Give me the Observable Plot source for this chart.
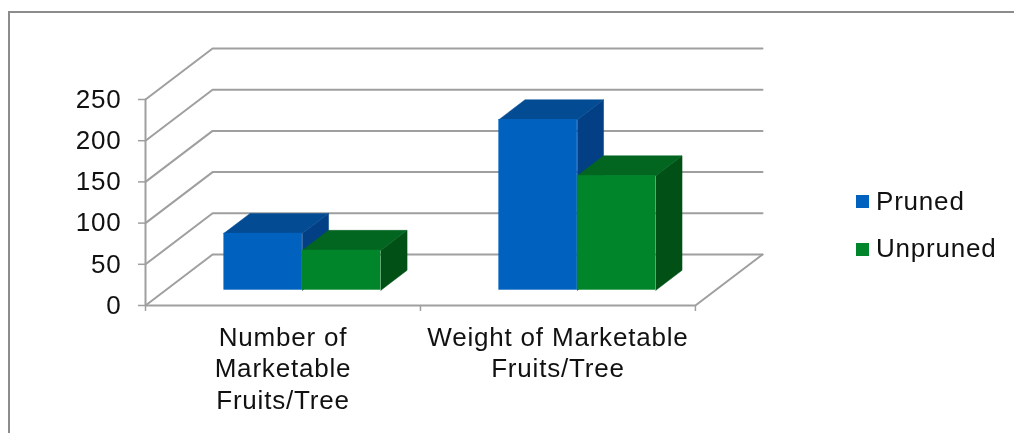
<!DOCTYPE html>
<html>
<head>
<meta charset="utf-8">
<script src="https://cdn.jsdelivr.net/npm/d3@7"></script>
<script src="https://cdn.jsdelivr.net/npm/@observablehq/plot@0.6"></script>
<style>
html,body{margin:0;padding:0;background:#fff;overflow:hidden}
#page{position:relative;width:1014px;height:433px;font-family:"Liberation Sans",Arial,sans-serif;filter:blur(0.35px)}
#frame{position:absolute;left:8px;top:11px;right:0;bottom:0;border-top:2px solid #8c8c8c;border-left:2px solid #8c8c8c}
#chart{position:absolute;left:0;top:0}
#chart svg{background:transparent!important}
.lg{position:absolute;left:856px;width:13px;height:13px}
.lt{position:absolute;left:876px;font-size:26px;letter-spacing:0.8px;line-height:30px;color:#111;white-space:nowrap}
</style>
</head>
<body>
<div id="page">
  <div id="frame"></div>
  <div id="chart"></div>
</div>
<script>
const categories = ["Number of\nMarketable\nFruits/Tree", "Weight of Marketable\nFruits/Tree"];
const seriesNames = ["Pruned", "Unpruned"];
const pruned = [69, 207];
const unpruned = [48.5, 139];
const valueTicks = [0, 50, 100, 150, 200, 250];

const frontColors = ["#0061BF", "#00852A"];
const topColors = ["#034C94", "#026520"];
const sideColors = ["#023F84", "#015117"];
const gridColor = "#9f9f9f";

// oblique projection: depth 0 = front of the floor, depth 1 = back wall
const depthX = 0.244, depthY = 61.9;
const px = (c, d) => c + depthX * d;
const py = (v, d) => v + depthY * d;
const pt = (c, v, d) => ({x: px(c, d), y: py(v, d)});

const gap = 0.212, barW = 0.2855, d0 = 0.3, d1 = 0.69;
const bars = [pruned, unpruned].flatMap((vals, s) =>
  vals.map((v, i) => ({s, i, v, c0: i + gap + s * barW, c1: i + gap + (s + 1) * barW}))
);

const marks = [];
// walls and floor
valueTicks.forEach(v => {
  marks.push(Plot.line([pt(0, v, 0), pt(0, v, 1), pt(2, v, 1)],
    {x: "x", y: "y", stroke: gridColor, strokeWidth: 2, strokeLinejoin: "miter"}));
});
marks.push(Plot.line([pt(0, 250, 0), pt(0, 0, 0), pt(2, 0, 0), pt(2, 0, 1)],
  {x: "x", y: "y", stroke: gridColor, strokeWidth: 2, strokeLinejoin: "miter"}));
// bars
bars.forEach(b => {
  const top = [pt(b.c0, b.v, d0), pt(b.c1, b.v, d0), pt(b.c1, b.v, d1), pt(b.c0, b.v, d1), pt(b.c0, b.v, d0)];
  const side = [pt(b.c1, 0, d0), pt(b.c1, 0, d1), pt(b.c1, b.v, d1), pt(b.c1, b.v, d0), pt(b.c1, 0, d0)];
  marks.push(Plot.line(side, {x: "x", y: "y", fill: sideColors[b.s], stroke: sideColors[b.s], strokeWidth: 0.5}));
  marks.push(Plot.line(top, {x: "x", y: "y", fill: topColors[b.s], stroke: topColors[b.s], strokeWidth: 0.5}));
  marks.push(Plot.rect([b], {
    x1: px(b.c0, d0), x2: px(b.c1, d0), y1: py(0, d0), y2: py(b.v, d0), fill: frontColors[b.s]
  }));
});
marks.push(Plot.axisY({ticks: valueTicks, anchor: "left", label: null, tickSize: 7, tickPadding: 17,
  stroke: gridColor, strokeWidth: 1.5, fontSize: 26, fill: "#111"}));
marks.push(Plot.axisX({ticks: [0, 1, 2], anchor: "bottom", label: null, tickSize: 6, tickFormat: () => "",
  stroke: gridColor, strokeWidth: 1.5}));
marks.push(Plot.text(categories, {
  x: (d, i) => i + 0.5, y: 0, text: d => d, dy: 18, lineAnchor: "top", lineHeight: 1.21,
  fontSize: 26, fill: "#111", textAnchor: "middle"
}));

const chart = Plot.plot({
  width: 1014, height: 433,
  marginLeft: 145, marginRight: 1014 - 762, marginTop: 48, marginBottom: 128,
  x: {domain: [0, 2 + depthX], axis: null},
  y: {domain: [0, 250 + depthY], axis: null},
  style: {fontFamily: '"Liberation Sans", Arial, sans-serif', letterSpacing: "0.8px", background: "transparent", overflow: "visible"},
  marks
});
document.getElementById("chart").appendChild(chart);

const page = document.getElementById("page");
const legendTops = [195, 243];
const legendTextTops = [186, 233];
seriesNames.forEach((name, i) => {
  const sw = document.createElement("div");
  sw.className = "lg"; sw.style.top = legendTops[i] + "px"; sw.style.background = frontColors[i];
  page.appendChild(sw);
  const t = document.createElement("div");
  t.className = "lt"; t.style.top = legendTextTops[i] + "px"; t.textContent = name;
  page.appendChild(t);
});
</script>
</body>
</html>
